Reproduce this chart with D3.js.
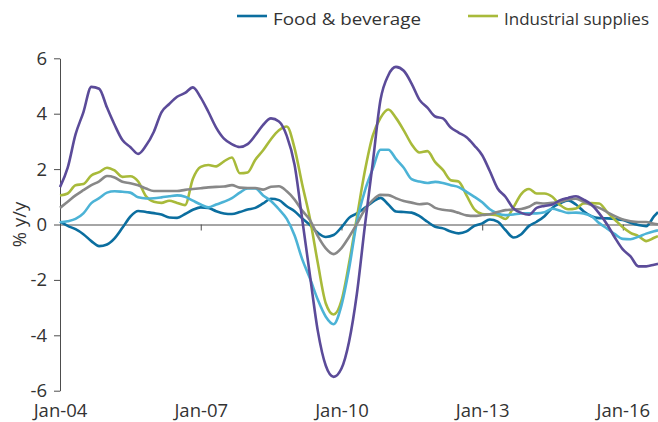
<!DOCTYPE html>
<html>
<head>
<meta charset="utf-8">
<script src="https://cdn.jsdelivr.net/npm/d3@7"></script>
<style>
  html, body { margin: 0; padding: 0; background: #fff; }
  svg { display: block; font-family: "Open Sans", sans-serif; }
</style>
</head>
<body>
<svg id="chart" width="658" height="422"></svg>
<script>
// Month offsets from Jan-2004 (every 2 months, last point Oct-2016)
const monthOffsets = [0,2,4,6,8,10,12,14,16,18,20,22,24,26,28,30,32,34,36,38,40,42,44,46,48,50,52,54,56,58,60,62,64,66,68,70,72,74,76,78,80,82,84,86,88,90,92,94,96,98,100,102,104,106,108,110,112,114,116,118,120,122,124,126,128,130,132,134,136,138,140,142,144,146,148,150,152,153];

const foodBeverage = [0.1,-0.05,-0.17,-0.35,-0.6,-0.78,-0.72,-0.5,-0.12,0.28,
  0.49,0.45,0.41,0.36,0.25,0.24,0.38,0.53,0.62,0.6,
  0.48,0.4,0.38,0.45,0.54,0.6,0.76,0.93,0.88,0.66,
  0.48,0.22,-0.02,-0.3,-0.45,-0.38,-0.1,0.24,0.4,0.6,
  0.82,0.96,0.72,0.47,0.45,0.43,0.3,0.1,-0.08,-0.14,
  -0.25,-0.32,-0.25,-0.05,0.04,0.18,0.1,-0.2,-0.47,-0.35,
  -0.05,0.1,0.3,0.6,0.77,0.87,0.72,0.48,0.3,0.23,
  0.22,0.2,0.16,0.06,-0.02,-0.06,0.3,0.45];

const industrialSupplies = [1.05,1.12,1.42,1.46,1.77,1.89,2.05,1.95,1.72,1.74,
  1.55,1.02,0.82,0.78,0.86,0.78,0.7,1.65,2.08,2.15,
  2.1,2.28,2.42,1.85,1.88,2.34,2.68,3.08,3.4,3.54,
  2.75,1.45,0.2,-1.4,-2.85,-3.25,-2.75,-1.4,0.25,1.9,
  3.2,3.85,4.15,3.85,3.4,2.9,2.6,2.65,2.25,1.97,
  1.6,1.55,1.05,0.55,0.38,0.36,0.33,0.2,0.62,1.1,
  1.28,1.12,1.12,1.0,0.7,0.55,0.58,0.76,0.77,0.76,
  0.45,0.17,-0.1,-0.3,-0.42,-0.6,-0.48,-0.42];

const lightBlueSeries = [0.08,0.12,0.2,0.4,0.77,0.95,1.15,1.2,1.18,1.15,
  0.98,0.94,0.95,0.98,1.02,1.05,1.0,0.86,0.72,0.62,
  0.72,0.82,0.95,1.15,1.3,1.3,1.05,0.85,0.55,0.2,
  -0.4,-1.25,-1.95,-2.72,-3.33,-3.6,-2.92,-1.6,0.1,1.2,
  2.0,2.7,2.7,2.37,2.05,1.64,1.55,1.5,1.54,1.5,
  1.42,1.35,1.18,1.0,0.8,0.55,0.4,0.34,0.36,0.4,
  0.4,0.4,0.44,0.57,0.5,0.42,0.43,0.4,0.3,0.05,
  -0.15,-0.35,-0.52,-0.53,-0.44,-0.33,-0.24,-0.21];

const graySeries = [0.6,0.82,1.05,1.24,1.42,1.56,1.75,1.7,1.54,1.49,
  1.42,1.3,1.21,1.21,1.21,1.21,1.25,1.28,1.31,1.34,
  1.36,1.37,1.42,1.33,1.32,1.32,1.26,1.36,1.38,1.2,
  0.9,0.5,0.16,-0.42,-0.86,-1.07,-0.85,-0.45,0.02,0.53,
  0.88,1.07,1.06,0.95,0.85,0.79,0.73,0.76,0.6,0.53,
  0.5,0.42,0.33,0.31,0.34,0.37,0.45,0.52,0.54,0.56,
  0.64,0.78,0.76,0.78,0.82,0.9,0.93,0.82,0.7,0.6,
  0.45,0.3,0.18,0.12,0.09,0.09,0.03,0.01];

const purpleSeries = [1.35,2.05,3.25,4.05,4.97,4.9,4.22,3.6,3.05,2.8,
  2.55,2.85,3.35,4.05,4.35,4.61,4.75,4.95,4.58,4.07,
  3.5,3.1,2.9,2.8,2.9,3.22,3.6,3.83,3.72,3.2,
  2.15,0.2,-1.85,-3.85,-5.1,-5.5,-5.2,-4.23,-2.5,-0.1,
  2.2,4.5,5.39,5.69,5.55,5.09,4.5,4.22,3.9,3.83,
  3.5,3.32,3.15,2.85,2.5,1.93,1.3,1.0,0.58,0.42,
  0.35,0.6,0.67,0.72,0.88,0.96,1.02,0.9,0.72,0.4,
  0.0,-0.48,-0.9,-1.15,-1.51,-1.51,-1.45,-1.42];

const yTicks = [-6,-4,-2,0,2,4,6];
const xTickYears = [2004,2007,2010,2013,2016];
const legendLabels = ["Food & beverage","Industrial supplies"];

const colors = {
  food: "#0b6e9f",
  industrial: "#a8ba3a",
  lightblue: "#4cb3d6",
  gray: "#888888",
  purple: "#5b4b99"
};

const svg = d3.select("#chart");
const chartW = 658;
const plotLeft = 60, plotTop = 58.3, plotBottom = 390.7;

const dates = monthOffsets.map(m => new Date(2004, m, 1));
const x = d3.scaleTime()
  .domain([new Date(2004,0,1), new Date(2016,9,1)])
  .range([plotLeft, chartW]);
const y = d3.scaleLinear().domain([-6,6]).range([plotBottom, plotTop]);

const axisColor = "#4d4d4d";
const textColor = "#333333";

// Y axis
const yAxis = svg.append("g")
  .attr("transform", `translate(${plotLeft},0)`)
  .call(d3.axisLeft(y).tickValues(yTicks).tickSize(6).tickSizeOuter(0).tickPadding(7)
    .tickFormat(d => String(d)));
yAxis.select(".domain").attr("stroke", axisColor);
yAxis.selectAll(".tick line").attr("stroke", axisColor);
yAxis.selectAll("text").attr("fill", textColor).style("font-size", "18.5px").style("font-family", "Open Sans");

// Zero line with ticks
const zeroAxis = svg.append("g")
  .attr("transform", `translate(0,${y(0)})`)
  .call(d3.axisBottom(x).tickValues(xTickYears.map(yr => new Date(yr,0,1)))
    .tickSize(6).tickSizeOuter(0).tickFormat(""));
zeroAxis.select(".domain").attr("stroke", axisColor);
zeroAxis.selectAll(".tick line").attr("stroke", axisColor);

// Bottom labels
const labelAxis = svg.append("g")
  .attr("transform", `translate(0,${plotBottom})`)
  .call(d3.axisBottom(x).tickValues(xTickYears.map(yr => new Date(yr,0,1)))
    .tickSize(0).tickPadding(13).tickFormat(d3.timeFormat("%b-%y")));
labelAxis.select(".domain").remove();
labelAxis.selectAll("text").attr("fill", textColor).style("font-size", "18.5px").style("font-family", "Open Sans");

// Y label
svg.append("text")
  .attr("transform", `translate(20,${(plotTop+plotBottom)/2}) rotate(-90)`)
  .attr("text-anchor", "middle")
  .attr("dy", "0.35em")
  .attr("fill", textColor)
  .style("font-size", "18.5px")
  .text("% y/y");

// Lines
const line = d3.line()
  .x((d, i) => x(dates[i]))
  .y(d => y(d))
  .curve(d3.curveMonotoneX);

const series = [
  {values: foodBeverage, color: colors.food},
  {values: industrialSupplies, color: colors.industrial},
  {values: lightBlueSeries, color: colors.lightblue},
  {values: graySeries, color: colors.gray},
  {values: purpleSeries, color: colors.purple}
];

svg.append("g").selectAll("path")
  .data(series)
  .join("path")
  .attr("fill", "none")
  .attr("stroke", d => d.color)
  .attr("stroke-width", 2.6)
  .attr("stroke-linejoin", "round")
  .attr("d", d => line(d.values));

// Legend
const legendItems = [
  {label: legendLabels[0], color: colors.food, x0: 237, w: 148},
  {label: legendLabels[1], color: colors.industrial, x0: 468, w: 145}
];
const lg = svg.append("g");
legendItems.forEach(it => {
  lg.append("line")
    .attr("x1", it.x0).attr("x2", it.x0 + 30)
    .attr("y1", 16).attr("y2", 16)
    .attr("stroke", it.color).attr("stroke-width", 2.6);
  lg.append("text")
    .attr("x", it.x0 + 36).attr("y", 24.5)
    .attr("fill", textColor)
    .attr("textLength", it.w)
    .attr("lengthAdjust", "spacingAndGlyphs")
    .style("font-size", "17px")
    .text(it.label);
});
</script>
</body>
</html>
